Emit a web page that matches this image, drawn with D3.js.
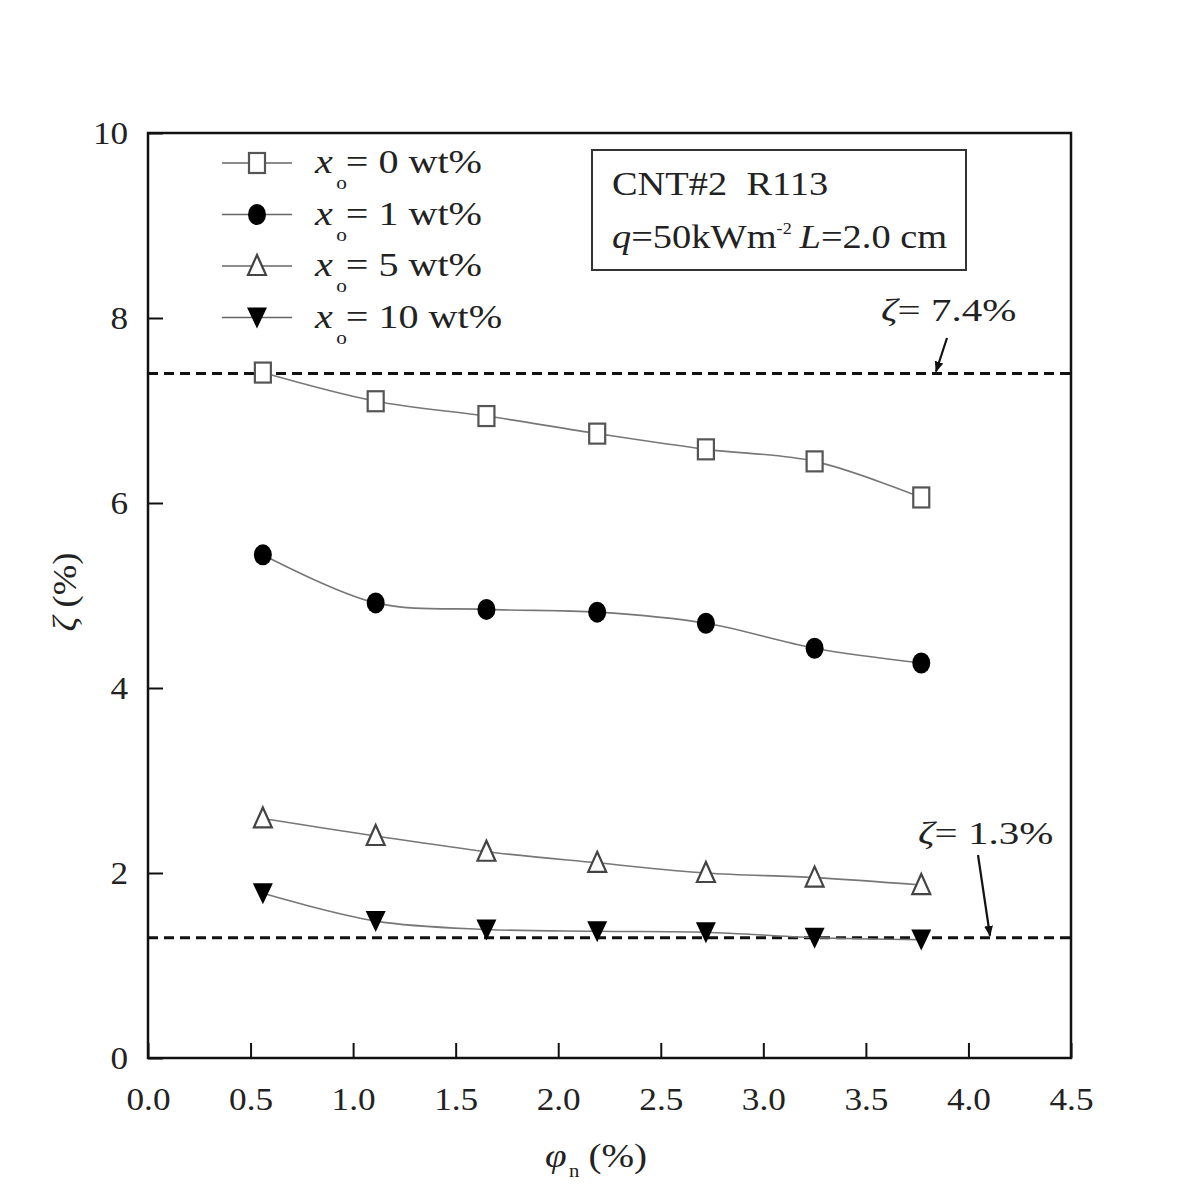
<!DOCTYPE html>
<html>
<head>
<meta charset="utf-8">
<script src="https://cdn.jsdelivr.net/npm/d3@7"></script>
<style>
  body { margin: 0; background: #fff; }
  svg text { font-family: "Liberation Serif", "Times New Roman", Times, serif; fill: #222; }
</style>
</head>
<body>
<div id="chart"></div>
<script>
let svgWidth = 1200;
let svgHeight = 1200;

let margin = { top: 133, right: 129, bottom: 142, left: 148 };
let width = svgWidth - margin.left - margin.right;
let height = svgHeight - margin.top - margin.bottom;

// data
let phiN = [0.56, 1.11, 1.65, 2.19, 2.72, 3.25, 3.77];
let zeta0 = [7.41, 7.10, 6.94, 6.75, 6.58, 6.45, 6.06];
let zeta1 = [5.44, 4.92, 4.85, 4.82, 4.70, 4.43, 4.27];
let zeta5 = [2.59, 2.40, 2.23, 2.11, 2.00, 1.95, 1.87];
let zeta10 = [1.78, 1.48, 1.39, 1.37, 1.36, 1.30, 1.28];
let seriesLabels = ["0", "1", "5", "10"];
let seriesMarkers = ["square", "circle", "triangleUp", "triangleDown"];
let refLines = [7.4, 1.3];
let xTicks = [0, 0.5, 1, 1.5, 2, 2.5, 3, 3.5, 4, 4.5];
let yTicks = [0, 2, 4, 6, 8, 10];

let allSeries = [zeta0, zeta1, zeta5, zeta10];

let svg = d3.select("#chart")
  .append("svg")
  .attr("width", svgWidth)
  .attr("height", svgHeight)
  .attr("font-family", "Liberation Serif, serif");

// the original lettering is a bit wider than it is tall, so text gets a small x stretch
function wideText(parent, x, y, size, sx) {
  return parent.append("text")
    .attr("transform", `translate(${x}, ${y}) scale(${sx}, 1)`)
    .attr("font-size", size);
}

let chartGroup = svg.append("g")
  .attr("transform", `translate(${margin.left}, ${margin.top})`);

let x = d3.scaleLinear().domain([0, 4.5]).range([0, width]);
let y = d3.scaleLinear().domain([0, 10]).range([height, 0]);

// axes with inward ticks
let bottomAxis = d3.axisBottom(x).tickValues(xTicks).tickFormat(d3.format(".1f"))
  .tickSizeInner(-15).tickSizeOuter(0).tickPadding(29);
let leftAxis = d3.axisLeft(y).tickValues(yTicks).tickFormat(d3.format("d"))
  .tickSizeInner(-15).tickSizeOuter(0).tickPadding(18);

let xAxis = chartGroup.append("g")
  .attr("transform", `translate(0, ${height})`)
  .call(bottomAxis);
let yAxis = chartGroup.append("g").call(leftAxis);

[xAxis, yAxis].forEach(a => {
  a.attr("font-family", null);
  a.select(".domain").remove();
  a.selectAll("line").attr("stroke", "#111").attr("stroke-width", 2);
  a.selectAll("text").attr("font-size", 32).attr("fill", "#333")
    .attr("transform", "scale(1.1, 1)");
});

// frame
chartGroup.append("rect")
  .attr("width", width).attr("height", height)
  .attr("fill", "none").attr("stroke", "#111").attr("stroke-width", 2.5);

// reference lines
chartGroup.selectAll(".refline")
  .data(refLines)
  .enter()
  .append("line")
  .attr("x1", 0).attr("x2", width)
  .attr("y1", d => y(d)).attr("y2", d => y(d))
  .attr("stroke", "#111").attr("stroke-width", 2.8)
  .attr("stroke-dasharray", "10,6");

// series lines
let line = d3.line()
  .x((d, i) => x(phiN[i]))
  .y(d => y(d))
  .curve(d3.curveCatmullRom.alpha(0.5));

chartGroup.selectAll(".series")
  .data(allSeries)
  .enter()
  .append("path")
  .attr("d", d => line(d))
  .attr("fill", "none")
  .attr("stroke", "#777")
  .attr("stroke-width", 1.6);

function drawMarker(g, type, cx, cy) {
  if (type === "square") {
    g.append("rect").attr("x", cx - 8).attr("y", cy - 10).attr("width", 16).attr("height", 20)
      .attr("fill", "#fff").attr("stroke", "#555").attr("stroke-width", 2.2);
  } else if (type === "circle") {
    g.append("ellipse").attr("cx", cx).attr("cy", cy).attr("rx", 9).attr("ry", 10.5)
      .attr("fill", "#000");
  } else if (type === "triangleUp") {
    g.append("path").attr("d", `M${cx},${cy - 11} L${cx + 9},${cy + 9} L${cx - 9},${cy + 9}Z`)
      .attr("fill", "#fff").attr("stroke", "#444").attr("stroke-width", 2.2);
  } else {
    g.append("path").attr("d", `M${cx - 10},${cy - 10} L${cx + 10},${cy - 10} L${cx},${cy + 11}Z`)
      .attr("fill", "#000");
  }
}

allSeries.forEach((s, k) => {
  let g = chartGroup.append("g");
  s.forEach((v, i) => drawMarker(g, seriesMarkers[k], x(phiN[i]), y(v)));
});

// legend
let legend = svg.append("g");
seriesLabels.forEach((lab, k) => {
  let ly = 163 + k * 51.5;
  legend.append("line").attr("x1", 222).attr("x2", 292).attr("y1", ly).attr("y2", ly)
    .attr("stroke", "#666").attr("stroke-width", 1.6);
  drawMarker(legend, seriesMarkers[k], 257, ly);
  let t = wideText(legend, 315, ly + 10, 34, 1.18);
  t.append("tspan").attr("font-style", "italic").text("x");
  t.append("tspan").attr("font-size", 18).attr("dx", 3).attr("dy", 16).text("o");
  t.append("tspan").attr("dx", -1).attr("dy", -16).text("= " + lab + " wt%");
});

// info box
svg.append("rect")
  .attr("x", 592).attr("y", 150).attr("width", 374).attr("height", 120)
  .attr("fill", "#fff").attr("stroke", "#333").attr("stroke-width", 2);
wideText(svg, 612, 195, 34, 1.13)
  .attr("xml:space", "preserve").text("CNT#2  R113");
let info = wideText(svg, 612, 248, 34, 1.13);
info.append("tspan").attr("font-style", "italic").text("q");
info.append("tspan").text("=50kWm");
info.append("tspan").attr("font-size", 16).attr("dy", -14).text("-2");
info.append("tspan").attr("dy", 14).attr("dx", 7).attr("font-style", "italic").text("L");
info.append("tspan").text("=2.0 cm");

// annotations
let notes = [
  { v: 7.4, tx: 881, ty: 321, ax1: 947, ay1: 338, ax2: 936 },
  { v: 1.3, tx: 918, ty: 844, ax1: 978, ay1: 855, ax2: 990 }
];
svg.append("defs").append("marker")
  .attr("id", "arr").attr("viewBox", "0 0 10 10").attr("refX", 9).attr("refY", 5)
  .attr("markerWidth", 5).attr("markerHeight", 5).attr("orient", "auto")
  .append("path").attr("d", "M0,1 L10,5 L0,9Z").attr("fill", "#111");
notes.forEach(n => {
  let t = wideText(svg, n.tx, n.ty, 32, 1.28);
  t.append("tspan").attr("font-style", "italic").text("ζ");
  t.append("tspan").text("= " + n.v.toFixed(1) + "%");
  svg.append("line")
    .attr("x1", n.ax1).attr("y1", n.ay1)
    .attr("x2", n.ax2).attr("y2", margin.top + y(n.v) - 2)
    .attr("stroke", "#111").attr("stroke-width", 2.2)
    .attr("marker-end", "url(#arr)");
});

// axis titles
let xt = wideText(svg, 545, 1167, 34, 1.15);
xt.append("tspan").attr("font-style", "italic").text("φ");
xt.append("tspan").attr("font-size", 18).attr("dy", 10).attr("dx", 2).text("n");
xt.append("tspan").attr("dy", -10).attr("dx", 8).text("(%)");

let yt = svg.append("text")
  .attr("transform", "translate(76, 592) rotate(-90) scale(1.08, 1)")
  .attr("text-anchor", "middle").attr("font-size", 34);
yt.append("tspan").attr("font-style", "italic").text("ζ");
yt.append("tspan").text(" (%)");
</script>
</body>
</html>
